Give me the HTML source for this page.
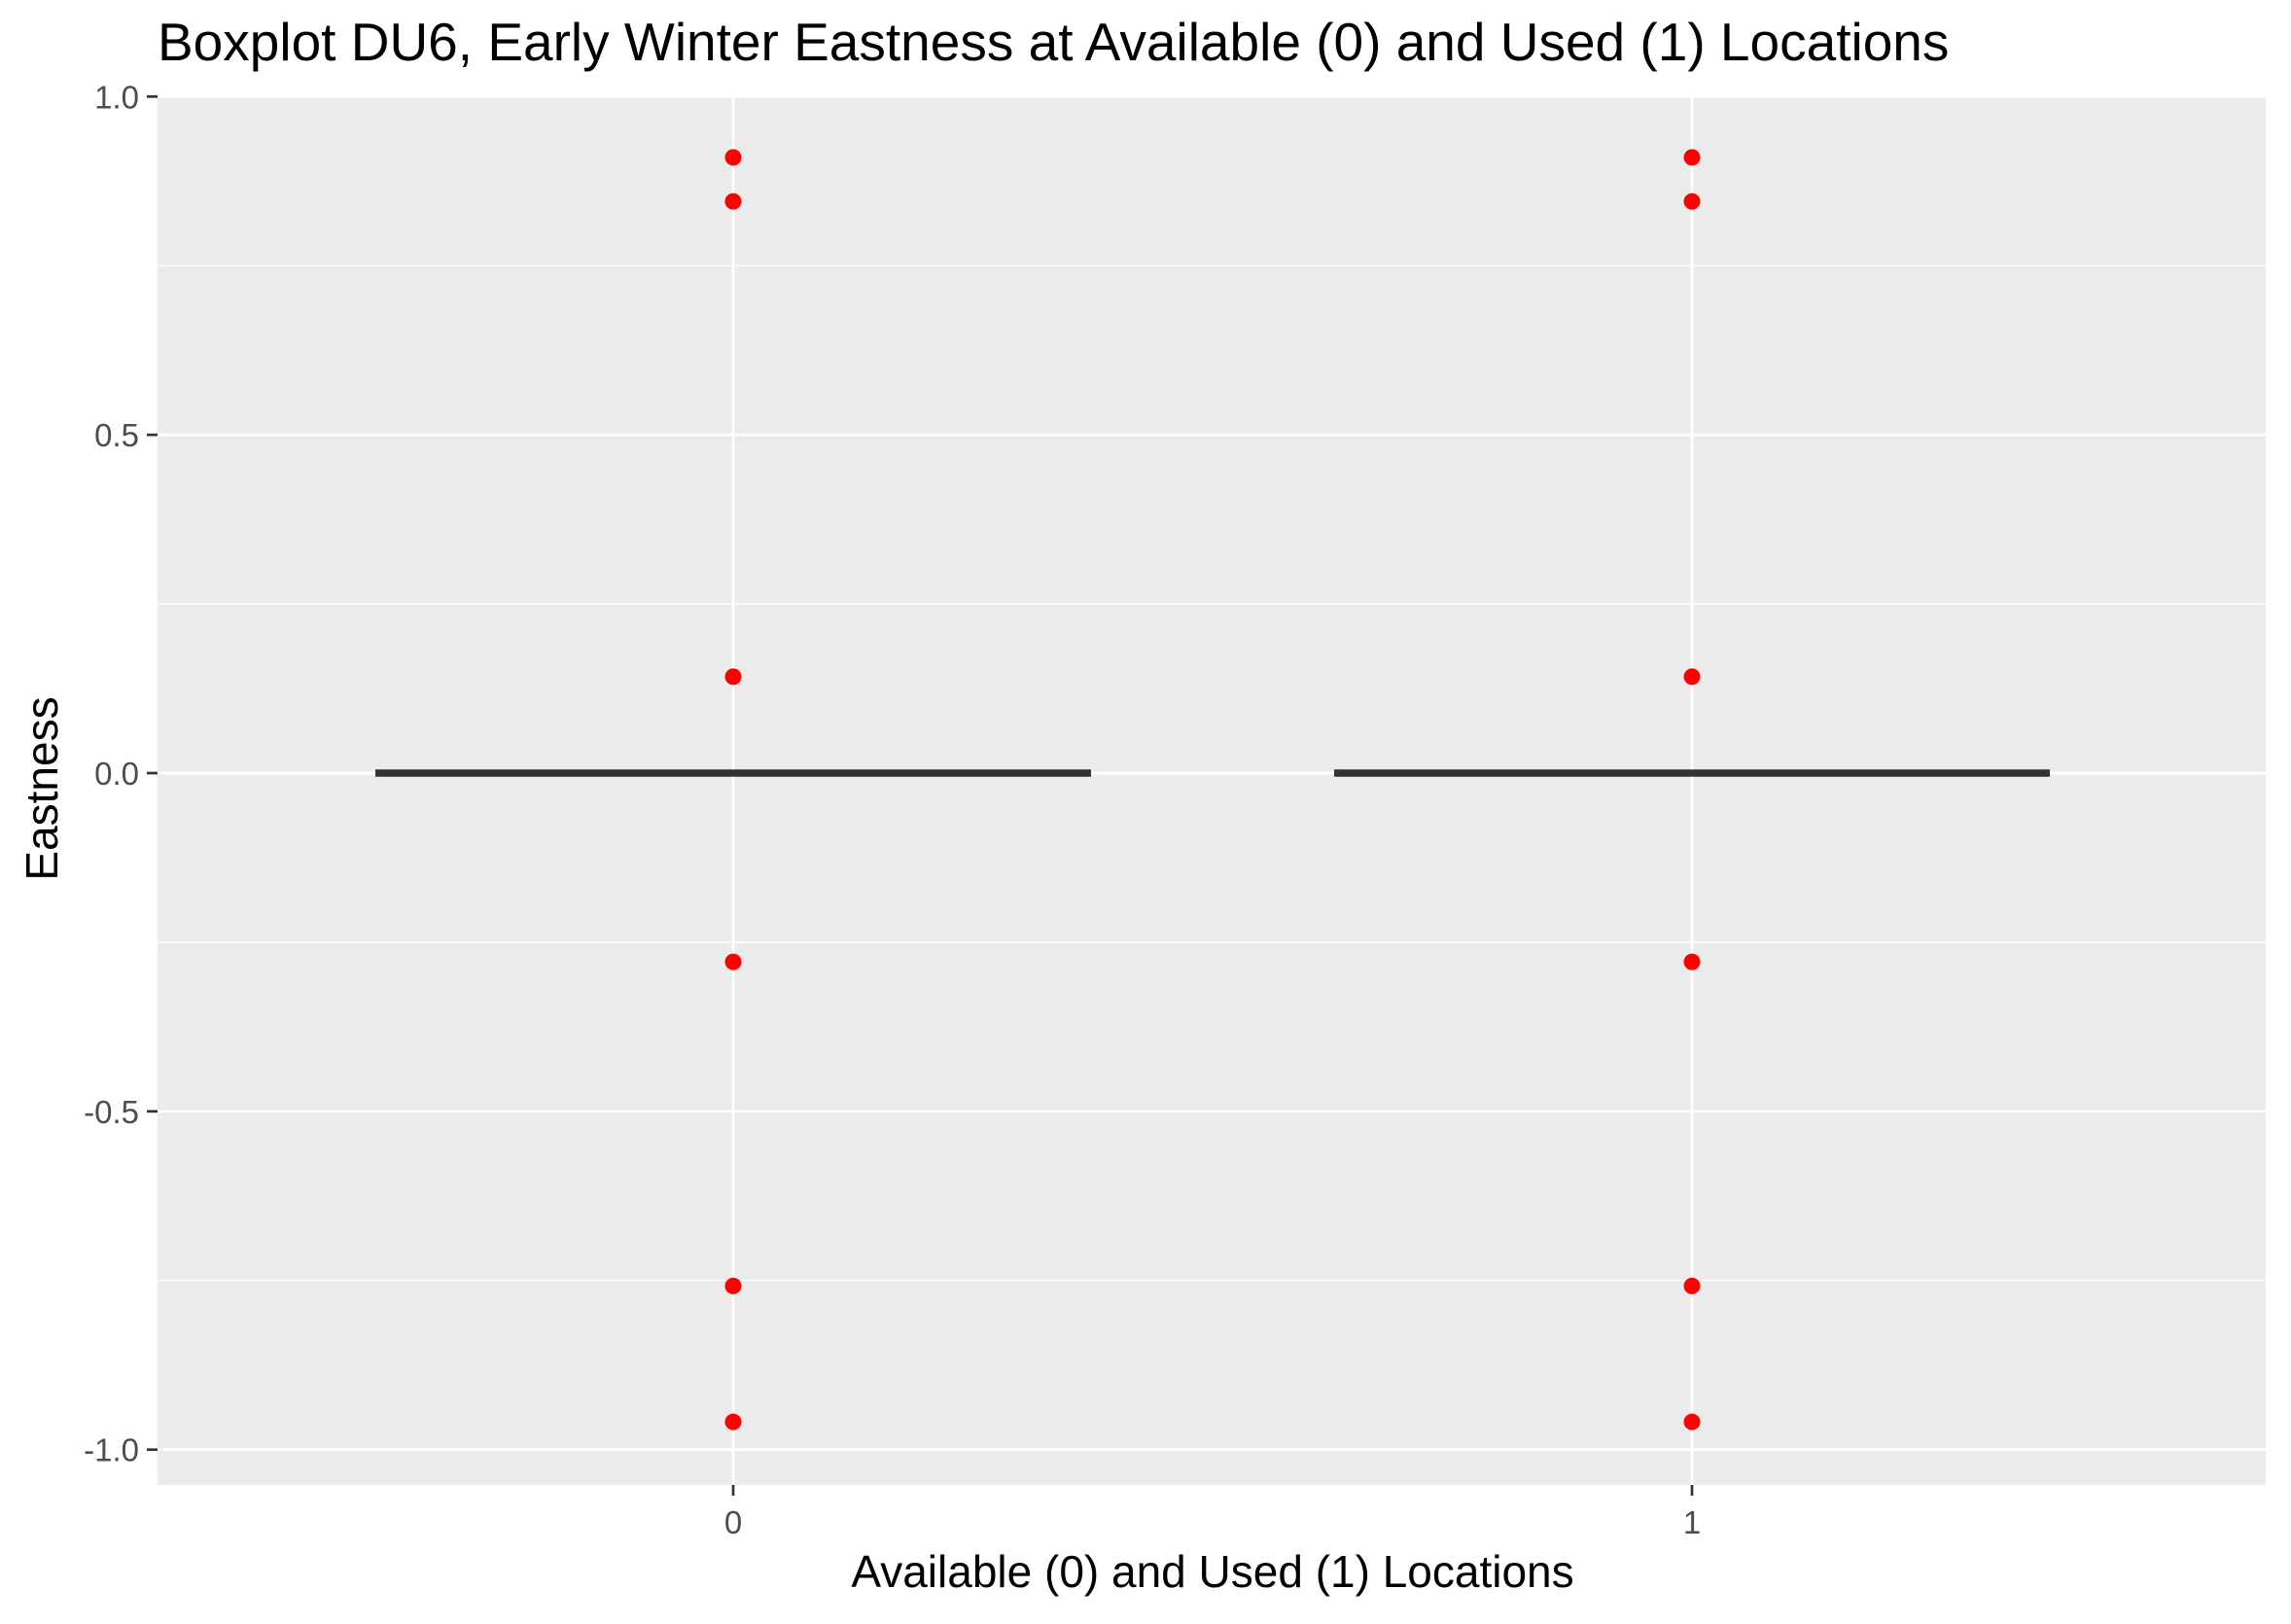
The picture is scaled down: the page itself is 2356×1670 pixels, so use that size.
<!DOCTYPE html>
<html><head><meta charset="utf-8"><style>
body{margin:0;background:#fff;}
svg text{font-family:"Liberation Sans",Arial,sans-serif;}
</style></head><body>
<svg id="chart" width="2356" height="1665" viewBox="0 0 2356 1665" xmlns="http://www.w3.org/2000/svg">
<rect width="2356" height="1665" fill="#fff"/>
<text x="162" y="62" font-size="55" fill="#000">Boxplot DU6, Early Winter Eastness at Available (0) and Used (1) Locations</text>
<rect x="162" y="99" width="2168" height="1428" fill="#ebebeb"/>
<g id="grid"></g>
<g id="boxes"></g>
<g id="points"></g>
<g id="axes"></g>
<text x="1247" y="1632" font-size="46" text-anchor="middle" fill="#000">Available (0) and Used (1) Locations</text>
<text transform="translate(59,811) rotate(-90)" font-size="46" text-anchor="middle" fill="#000">Eastness</text>
</svg>
<script>
const categories = ["0","1"];
const medians = [0, 0];
const outliers0 = [0.91, 0.845, 0.1425, -0.279, -0.758, -0.959];
const outliers1 = [0.91, 0.845, 0.1425, -0.279, -0.758, -0.959];
const yTicks = [-1.0, -0.5, 0.0, 0.5, 1.0];
const yTickLabels = ["-1.0", "-0.5", "0.0", "0.5", "1.0"];
const yMinor = [-0.75, -0.25, 0.25, 0.75];

const NS = "http://www.w3.org/2000/svg";
const L = 162, R = 2330, T = 99, B = 1527;
function y(v){ return 795 - v * 695.7; }
function x(i){ return 754 + i * 986; }
const boxHalf = 368;
function mk(tag, attrs, parent){
  const e = document.createElementNS(NS, tag);
  for (const k in attrs) e.setAttribute(k, attrs[k]);
  document.getElementById(parent).appendChild(e);
  return e;
}
yMinor.forEach(v=>{
  const e = mk("line",{x1:L,x2:R,y1:y(v),y2:y(v),stroke:"#fff","stroke-width":1.3},"grid");
  
  
});
yTicks.forEach((v,i)=>{
  const e = mk("line",{x1:L,x2:R,y1:y(v),y2:y(v),stroke:"#fff","stroke-width":2.7},"grid");
  
  
  const t = mk("line",{x1:L-11,x2:L,y1:y(v),y2:y(v),stroke:"#333","stroke-width":2.7},"axes");
  
  
  const l = mk("text",{x:L-19,y:y(v)+12,"font-size":33,"text-anchor":"end",fill:"#4d4d4d"},"axes");
  l.textContent = yTickLabels[i];
  
  
});
categories.forEach((c,i)=>{
  const g = mk("line",{x1:x(i),x2:x(i),y1:T,y2:B,stroke:"#fff","stroke-width":2.7},"grid");
  
  
  const t = mk("line",{x1:x(i),x2:x(i),y1:B,y2:B+11,stroke:"#333","stroke-width":2.7},"axes");
  
  
  const l = mk("text",{x:x(i),y:B+50,"font-size":33,"text-anchor":"middle",fill:"#4d4d4d"},"axes");
  l.textContent = c;
  
  
  const m = mk("line",{x1:x(i)-boxHalf,x2:x(i)+boxHalf,y1:y(medians[i]),y2:y(medians[i]),stroke:"#333","stroke-width":7.5},"boxes");
  
  
  const pts = i===0 ? outliers0 : outliers1;
  pts.forEach(v=>{
    const p = mk("circle",{cx:x(i),cy:y(v),r:8.5,fill:"#ff0000"},"points");
    
    
  });
});
</script>
</body></html>
